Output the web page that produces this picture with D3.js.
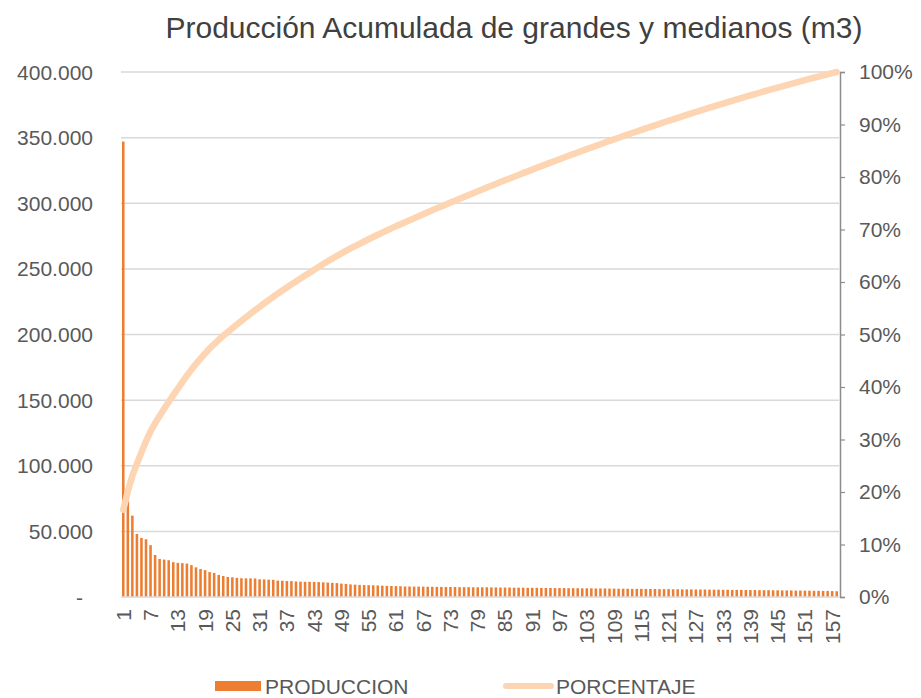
<!DOCTYPE html>
<html>
<head>
<meta charset="utf-8">
<script src="https://cdn.jsdelivr.net/npm/d3@7"></script>
<style>
  body { margin: 0; background: #fff; }
  svg text { font-family: "Liberation Sans", Arial, sans-serif; fill: #595959; }
</style>
</head>
<body>
<div id="chart"></div>
<script>
// produccion por pozo (m3), ordenada de mayor a menor
const produccion = [
  347000, 73000, 62000, 48000, 45000, 44000, 39500, 32000, 29000, 28500,
  28000, 26500, 26000, 25800, 25500, 24300, 22600, 21300, 20500, 19000,
  18300, 16800, 16000, 15300, 15000, 14600, 14300, 14200, 14200, 14100,
  13500, 13400, 13200, 13100, 12500, 12400, 12200, 12100, 11800, 11700,
  11600, 11600, 11500, 11400, 11200, 11000, 10800, 10600, 10200, 10000,
  9600, 9400, 9200, 9100, 9000, 8900, 8800, 8600, 8500, 8400,
  8300, 8200,
  8000, 8000, 7900, 7900, 7900, 7800, 7800, 7700,
  7700, 7600, 7600, 7600, 7500, 7500, 7500, 7400, 7400, 7400, 7400, 7300, 7300,
  7200, 7200, 7200, 7100, 7100, 7100, 7000, 7000, 7000, 6900, 6900, 6900, 6800,
  6800, 6800, 6700, 6700, 6700, 6600, 6600, 6600, 6500, 6500, 6500, 6400, 6400,
  6300, 6300, 6300, 6200, 6200, 6200, 6100, 6100, 6100, 6000, 6000, 6000, 5900,
  5900, 5800, 5800, 5800, 5700, 5700, 5700, 5600, 5600, 5600, 5500, 5500, 5400,
  5400, 5400, 5300, 5300, 5300, 5200, 5200, 5200, 5100, 5100, 5000, 5000, 5000,
  4900, 4900, 4800, 4800, 4700, 4700, 4600, 4600, 4500, 4400
]
const pozos = produccion.map((d, i) => i + 1)
const yTicks = [0, 50000, 100000, 150000, 200000, 250000, 300000, 350000, 400000]
const pctTicks = [0, 0.1, 0.2, 0.3, 0.4, 0.5, 0.6, 0.7, 0.8, 0.9, 1]
const xLabels = pozos.filter(d => (d - 1) % 6 === 0)

// porcentaje acumulado
const total = d3.sum(produccion)
let acum = 0
const porcentaje = produccion.map(d => { acum += d; return acum / total })

const width = 921, height = 698
const margin = { top: 72, right: 82, bottom: 101, left: 121 }
const fs = '21px'

const svg = d3.select('#chart').append('svg')
  .attr('width', width)
  .attr('height', height)

const x = d3.scaleBand()
  .domain(pozos)
  .range([margin.left, width - margin.right])

const y = d3.scaleLinear()
  .domain([0, 400000])
  .range([height - margin.bottom, margin.top])

const yPct = d3.scaleLinear()
  .domain([0, 1])
  .range([height - margin.bottom, margin.top])

const fmt = d => d === 0 ? '-' : d3.format(',')(d).replace(/,/g, '.')

// title
svg.append('text')
  .attr('x', 514)
  .attr('y', 38)
  .attr('text-anchor', 'middle')
  .style('font-size', '30px')
  .style('fill', '#404040')
  .text('Producción Acumulada de grandes y medianos (m3)')

// grid
svg.append('g')
  .selectAll('line')
  .data(yTicks.slice(1))
  .enter()
  .append('line')
  .attr('x1', margin.left)
  .attr('x2', width - margin.right)
  .attr('y1', d => y(d))
  .attr('y2', d => y(d))
  .attr('stroke', '#d9d9d9')
  .attr('stroke-width', 1.5)

// left axis labels
svg.append('g')
  .selectAll('text')
  .data(yTicks)
  .enter()
  .append('text')
  .attr('x', d => d === 0 ? 83 : 93)
  .attr('y', d => y(d) + 7.5)
  .attr('text-anchor', 'end')
  .style('font-size', fs)
  .text(fmt)

// bars
svg.append('g')
  .selectAll('rect')
  .data(produccion)
  .enter()
  .append('rect')
  .attr('x', (d, i) => x(pozos[i]) + x.bandwidth() * 0.22)
  .attr('width', x.bandwidth() * 0.56)
  .attr('y', d => y(d))
  .attr('height', d => y(0) - y(d))
  .attr('fill', '#ed7d31')

// base line
svg.append('line')
  .attr('x1', margin.left)
  .attr('x2', width - margin.right)
  .attr('y1', y(0))
  .attr('y2', y(0))
  .attr('stroke', '#d9d9d9')
  .attr('stroke-width', 1.5)

// right axis
const rightAxis = d3.axisRight(yPct)
  .tickValues(pctTicks)
  .tickFormat(d3.format('.0%'))
  .tickSize(5)
  .tickPadding(14)

const ra = svg.append('g')
  .attr('transform', `translate(${width - margin.right + 1},0)`)
  .call(rightAxis)
ra.select('.domain').attr('stroke', '#8c8c8c').attr('stroke-width', 1.5)
ra.selectAll('.tick line').attr('stroke', '#8c8c8c').attr('stroke-width', 1.2)
ra.selectAll('.tick text')
  .style('font-size', fs)
  .style('font-family', '"Liberation Sans", Arial, sans-serif')
  .attr('fill', '#595959')

// line
const line = d3.line()
  .x((d, i) => x(pozos[i]) + x.bandwidth() / 2)
  .y(d => yPct(d))

svg.append('path')
  .datum(porcentaje)
  .attr('d', line)
  .attr('fill', 'none')
  .attr('stroke', '#fdd5b2')
  .attr('stroke-width', 6.5)
  .attr('stroke-linecap', 'round')
  .attr('stroke-linejoin', 'round')

// x labels
svg.append('g')
  .selectAll('text')
  .data(xLabels)
  .enter()
  .append('text')
  .attr('transform', d => `translate(${x(d) + x.bandwidth() / 2 + 7.5},${y(0) + 12}) rotate(-90)`)
  .attr('text-anchor', 'end')
  .style('font-size', fs)
  .text(d => d)

// legend
const legend = svg.append('g')
legend.append('rect')
  .attr('x', 215).attr('y', 681)
  .attr('width', 46).attr('height', 10)
  .attr('fill', '#ed7d31')
legend.append('text')
  .attr('x', 265).attr('y', 694)
  .style('font-size', fs)
  .text('PRODUCCION')
legend.append('line')
  .attr('x1', 506).attr('x2', 551)
  .attr('y1', 686).attr('y2', 686)
  .attr('stroke', '#fdd5b2')
  .attr('stroke-width', 6)
  .attr('stroke-linecap', 'round')
legend.append('text')
  .attr('x', 556).attr('y', 694)
  .style('font-size', fs)
  .text('PORCENTAJE')
</script>
</body>
</html>
